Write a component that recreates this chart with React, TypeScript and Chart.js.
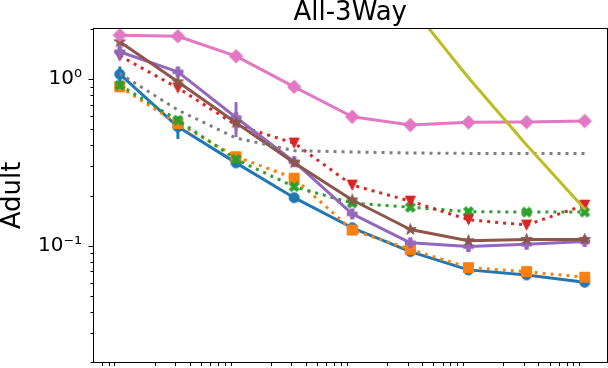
import React, { useEffect, useRef } from 'react';
import { Chart, registerables } from 'chart.js';

Chart.register(...registerables);

// ---- data ----
const xValues = [1, 3.162, 10, 31.62, 100, 316.2, 1000, 3162, 10000];
const blueVals = [1.07, 0.517, 0.314, 0.194, 0.128, 0.092, 0.0715, 0.0667, 0.0603];
const blueErr = [0.12, 0.08, 0, 0, 0, 0, 0, 0, 0];
const orangeVals = [0.899, 0.542, 0.342, 0.254, 0.124, 0.095, 0.0738, 0.0698, 0.0646];
const greenVals = [0.92, 0.567, 0.33, 0.226, 0.18, 0.17, 0.16, 0.159, 0.159];
const redVals = [1.38, 0.885, 0.53, 0.413, 0.231, 0.185, 0.143, 0.133, 0.175];
const purpleVals = [1.46, 1.106, 0.588, 0.319, 0.155, 0.104, 0.0987, 0.102, 0.106];
const purpleErr = [0.15, 0, 0.14, 0, 0, 0, 0, 0, 0];
const brownVals = [1.675, 0.963, 0.547, 0.315, 0.188, 0.125, 0.107, 0.109, 0.109];
const pinkVals = [1.836, 1.81, 1.374, 0.899, 0.594, 0.53, 0.55, 0.552, 0.56];
const grayVals = [1.08, 0.652, 0.443, 0.372, 0.365, 0.36, 0.358, 0.358, 0.357];
const oliveVals = [60, 40, 25, 14, 6.5, 2.77, 1.02, 0.402, 0.166];

const titleText = 'All-3Way';
const yAxisTitle = 'Adult';
const yTickValues = [0.1, 1];
const yTickLabels = ['10⁻¹', '10⁰'];
const minorMantissas = [2, 3, 4, 5, 6, 7, 8, 9];
const xMin = 0.636;
const xMax = 15400;
const yMin = 0.02;
const yMax = 2;

const FONT = 'DejaVu Sans';

function makeMarker(kind: string, color: string): HTMLCanvasElement {
  const S = kind === 'diamond' ? 17 : 15;
  const c = document.createElement('canvas');
  c.width = S;
  c.height = S;
  const ctx = c.getContext('2d')!;
  ctx.translate(S / 2, S / 2);
  ctx.fillStyle = color;
  ctx.strokeStyle = color;
  ctx.lineWidth = 1;
  ctx.lineJoin = 'miter';
  const m = 10;
  const poly = (pts: number[][], k: number) => {
    pts.forEach((p, i) => {
      if (i === 0) ctx.moveTo(p[0] * k, p[1] * k);
      else ctx.lineTo(p[0] * k, p[1] * k);
    });
  };
  ctx.beginPath();
  if (kind === 'circle') {
    ctx.arc(0, 0, m / 2, 0, Math.PI * 2);
  } else if (kind === 'square') {
    ctx.rect(-m / 2, -m / 2, m, m);
  } else if (kind === 'diamond') {
    const d = 6.7;
    poly([[0, -d], [d, 0], [0, d], [-d, 0]], 1);
  } else if (kind === 'triDown') {
    poly([[-m / 2, -m / 2], [m / 2, -m / 2], [0, m / 2]], 1);
  } else if (kind === 'xFilled') {
    poly(
      [[-1, -2], [0, -1], [1, -2], [2, -1], [1, 0], [2, 1], [1, 2], [0, 1], [-1, 2], [-2, 1], [-1, 0], [-2, -1]],
      m / 4
    );
  } else if (kind === 'plusFilled') {
    poly(
      [[-1, -3], [1, -3], [1, -1], [3, -1], [3, 1], [1, 1], [1, 3], [-1, 3], [-1, 1], [-3, 1], [-3, -1], [-1, -1]],
      m / 6
    );
  } else if (kind === 'star') {
    const R = 6;
    const r = R * 0.381966;
    const pts: number[][] = [];
    for (let i = 0; i < 10; i++) {
      const a = -Math.PI / 2 + (i * Math.PI) / 5;
      const rr = i % 2 === 0 ? R : r;
      pts.push([Math.cos(a) * rr, Math.sin(a) * rr]);
    }
    poly(pts, 1);
  }
  ctx.closePath();
  ctx.fill();
  ctx.stroke();
  return c;
}

const seriesDefs = [
  { label: 'blue', values: blueVals, color: '#1f77b4', dotted: false, marker: 'circle', err: blueErr },
  { label: 'orange', values: orangeVals, color: '#ff7f0e', dotted: true, marker: 'square', err: null },
  { label: 'green', values: greenVals, color: '#2ca02c', dotted: true, marker: 'xFilled', err: null },
  { label: 'red', values: redVals, color: '#d62728', dotted: true, marker: 'triDown', err: null },
  { label: 'purple', values: purpleVals, color: '#9467bd', dotted: false, marker: 'plusFilled', err: purpleErr },
  { label: 'brown', values: brownVals, color: '#8c564b', dotted: false, marker: 'star', err: null },
  { label: 'pink', values: pinkVals, color: '#e377c2', dotted: false, marker: 'diamond', err: null },
  { label: 'gray', values: grayVals, color: '#7f7f7f', dotted: true, marker: null, err: null },
  { label: 'olive', values: oliveVals, color: '#bcbd22', dotted: false, marker: null, err: null },
];

const errorBarPlugin = {
  id: 'errorBars',
  beforeDatasetDraw(chart: any, args: any) {
    const ds = chart.data.datasets[args.index];
    const errs: number[] | null = ds.errors;
    if (!errs) return;
    const { ctx, scales } = chart;
    const xs = scales.x;
    const ys = scales.y;
    ctx.save();
    ctx.strokeStyle = ds.borderColor;
    ctx.lineWidth = 3;
    ctx.lineCap = 'butt';
    ds.data.forEach((p: any, i: number) => {
      const e = errs[i];
      if (!e) return;
      const px = xs.getPixelForValue(p.x);
      const y1 = ys.getPixelForValue(p.y + e);
      const y2 = ys.getPixelForValue(Math.max(p.y - e, 1e-6));
      ctx.beginPath();
      ctx.moveTo(px, y1);
      ctx.lineTo(px, y2);
      ctx.stroke();
    });
    ctx.restore();
  },
};

const framePlugin = {
  id: 'frameTicks',
  afterDatasetsDraw(chart: any) {
    const { ctx, chartArea: a, scales } = chart;
    ctx.save();
    ctx.strokeStyle = '#000';
    ctx.lineWidth = 1;
    const L = Math.round(a.left) - 0.5;
    const R = Math.round(a.right) + 0.5;
    const T = Math.round(a.top) - 0.5;
    const B = Math.round(a.bottom) + 0.5;
    ctx.strokeRect(L, T, R - L, B - T);
    ctx.beginPath();
    for (let e = -3; e <= 1; e++) {
      const base = Math.pow(10, e);
      const major = base;
      if (major >= yMin && major <= yMax) {
        const py = Math.round(scales.y.getPixelForValue(major)) + 0.5;
        ctx.moveTo(L, py);
        ctx.lineTo(L - 5, py);
      }
      minorMantissas.forEach((mm) => {
        const v = mm * base;
        if (v < yMin - 1e-9 || v > yMax + 1e-9) return;
        const py = Math.round(scales.y.getPixelForValue(v)) + 0.5;
        ctx.moveTo(L, py);
        ctx.lineTo(L - 3, py);
      });
    }
    for (let e = -1; e <= 4; e++) {
      const base = Math.pow(10, e);
      minorMantissas.forEach((mm) => {
        const v = mm * base;
        if (v < xMin || v > xMax) return;
        const px = Math.round(scales.x.getPixelForValue(v)) + 0.5;
        ctx.moveTo(px, B);
        ctx.lineTo(px, B + 3.5);
      });
    }
    ctx.stroke();
    ctx.restore();
  },
};

export default function App() {
  const ref = useRef<HTMLCanvasElement | null>(null);
  useEffect(() => {
    if (!ref.current) return;
    const datasets = seriesDefs.map((s, i) => ({
      label: s.label,
      data: xValues.map((x, j) => ({ x, y: s.values[j] })),
      borderColor: s.color,
      backgroundColor: s.color,
      borderWidth: 3,
      borderDash: s.dotted ? [3, 5] : [],
      borderCapStyle: s.dotted ? 'butt' : 'round',
      borderJoinStyle: 'round',
      pointStyle: s.marker ? makeMarker(s.marker, s.color) : 'circle',
      pointRadius: s.marker ? 5 : 0,
      pointHoverRadius: s.marker ? 5 : 0,
      tension: 0,
      clip: 0,
      order: seriesDefs.length - i,
      errors: s.err,
    }));
    const chart = new Chart(ref.current, {
      type: 'line',
      data: { datasets } as any,
      plugins: [errorBarPlugin, framePlugin],
      options: {
        responsive: false,
        animation: false,
        events: [],
        layout: { autoPadding: false, padding: { top: 0, right: 1.5, bottom: 0, left: 0 } },
        plugins: {
          legend: { display: false },
          tooltip: { enabled: false },
          title: {
            display: true,
            fullSize: false,
            text: titleText,
            color: '#000',
            font: { family: FONT, size: 26, weight: 'normal', lineHeight: 1 },
            padding: { top: 0, bottom: 3 },
          },
        },
        scales: {
          x: {
            type: 'logarithmic',
            min: xMin,
            max: xMax,
            ticks: { display: false },
            grid: { display: false },
            border: { display: false },
            afterFit: (s: any) => {
              s.height = 6;
              s.paddingLeft = 0;
              s.paddingRight = 0;
            },
          },
          y: {
            type: 'logarithmic',
            min: yMin,
            max: yMax,
            afterBuildTicks: (s: any) => {
              s.ticks = yTickValues.map((v) => ({ value: v }));
            },
            ticks: {
              autoSkip: false,
              color: '#000',
              font: { family: FONT, size: 20 },
              padding: 12,
              callback: (v: any) => {
                const idx = yTickValues.findIndex((t) => Math.abs(t - Number(v)) < 1e-9);
                return idx >= 0 ? yTickLabels[idx] : null;
              },
            },
            grid: { display: false, drawTicks: false },
            border: { display: false },
            title: {
              display: true,
              text: yAxisTitle,
              color: '#000',
              font: { family: FONT, size: 26, lineHeight: 1 },
              padding: 0,
            },
            afterFit: (s: any) => {
              s.width = 94;
              s.paddingTop = 0;
              s.paddingBottom = 0;
            },
          },
        },
      } as any,
    });
    return () => chart.destroy();
  }, []);
  return (
    <div style={{ position: 'fixed', left: 0, top: 0, width: 608, height: 368, background: '#fff' }}>
      <canvas ref={ref} width={608} height={368} style={{ display: 'block' }} />
    </div>
  );
}
